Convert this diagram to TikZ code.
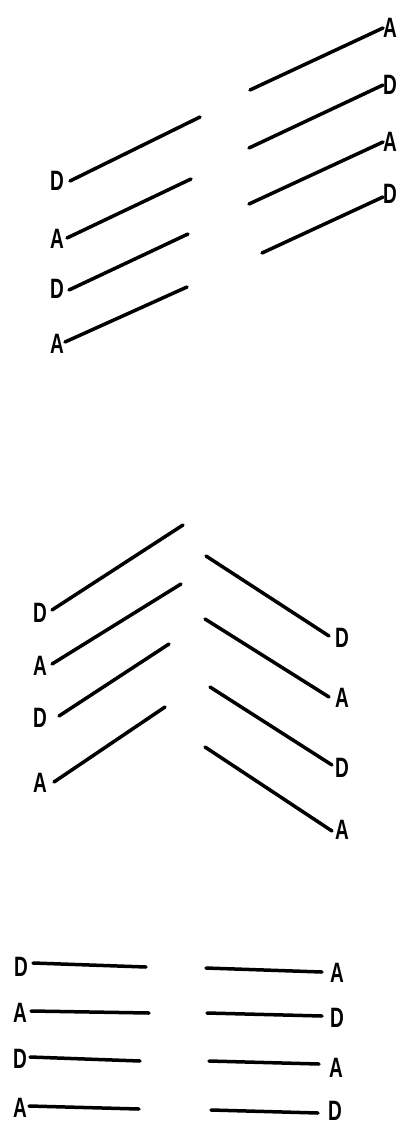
\documentclass[tikz,border=0pt]{standalone}
\usepackage{fontspec}
\newfontfamily\labfont{Liberation Sans}
\newcommand\lbl[1]{\scalebox{0.68}[1]{\bfseries #1}}
\tikzset{
  lab/.style={font=\labfont\fontsize{28}{28}\selectfont, inner sep=0pt,
    text height=20pt, text depth=0pt, text=black},
  pen/.style={line width=3.5pt, line cap=round, black}
}
\begin{document}
\begin{tikzpicture}[x=1pt,y=-1pt]
\useasboundingbox (0,0) rectangle (400,1124);
% ---------- section 1 ----------
\node[lab] (a1) at (57,180) {\lbl{D}};
\node[lab] (a2) at (57,238) {\lbl{A}};
\node[lab] (a3) at (57,288) {\lbl{D}};
\node[lab] (a4) at (57,343) {\lbl{A}};
\coordinate (a1s) at (70,181); \coordinate (a1e) at (200,117);
\coordinate (a2s) at (67,238); \coordinate (a2e) at (191,179);
\coordinate (a3s) at (69,290); \coordinate (a3e) at (188,234);
\coordinate (a4s) at (65,342); \coordinate (a4e) at (187,287);
\draw[pen] (a1s) -- (a1e);
\draw[pen] (a2s) -- (a2e);
\draw[pen] (a3s) -- (a3e);
\draw[pen] (a4s) -- (a4e);
\node[lab] (b1) at (390,28) {\lbl{A}};
\node[lab] (b2) at (390,85) {\lbl{D}};
\node[lab] (b3) at (390,141) {\lbl{A}};
\node[lab] (b4) at (390,193) {\lbl{D}};
\coordinate (b1s) at (250,90); \coordinate (b1e) at (383,28);
\coordinate (b2s) at (249,148); \coordinate (b2e) at (383,85);
\coordinate (b3s) at (249,204); \coordinate (b3e) at (383,142);
\coordinate (b4s) at (262,253); \coordinate (b4e) at (383,197);
\draw[pen] (b1s) -- (b1e);
\draw[pen] (b2s) -- (b2e);
\draw[pen] (b3s) -- (b3e);
\draw[pen] (b4s) -- (b4e);
% ---------- section 2 ----------
\node[lab] (c1) at (40,612) {\lbl{D}};
\node[lab] (c2) at (40,665) {\lbl{A}};
\node[lab] (c3) at (40,717) {\lbl{D}};
\node[lab] (c4) at (40,782) {\lbl{A}};
\coordinate (c1s) at (52,610); \coordinate (c1e) at (183,525);
\coordinate (c2s) at (52,664); \coordinate (c2e) at (181,584);
\coordinate (c3s) at (59,716); \coordinate (c3e) at (169,644);
\coordinate (c4s) at (54,782); \coordinate (c4e) at (165,707);
\draw[pen] (c1s) -- (c1e);
\draw[pen] (c2s) -- (c2e);
\draw[pen] (c3s) -- (c3e);
\draw[pen] (c4s) -- (c4e);
\node[lab] (d1) at (342,637) {\lbl{D}};
\node[lab] (d2) at (342,697) {\lbl{A}};
\node[lab] (d3) at (342,767) {\lbl{D}};
\node[lab] (d4) at (342,829) {\lbl{A}};
\coordinate (d1s) at (206,556); \coordinate (d1e) at (329,636);
\coordinate (d2s) at (205,619); \coordinate (d2e) at (329,697);
\coordinate (d3s) at (210,687); \coordinate (d3e) at (332,765);
\coordinate (d4s) at (205,747); \coordinate (d4e) at (332,831);
\draw[pen] (d1s) -- (d1e);
\draw[pen] (d2s) -- (d2e);
\draw[pen] (d3s) -- (d3e);
\draw[pen] (d4s) -- (d4e);
% ---------- section 3 ----------
\node[lab] (e1) at (21,966) {\lbl{D}};
\node[lab] (e2) at (20,1012) {\lbl{A}};
\node[lab] (e3) at (20,1058) {\lbl{D}};
\node[lab] (e4) at (20,1107) {\lbl{A}};
\coordinate (e1s) at (33,963); \coordinate (e1e) at (146,967);
\coordinate (e2s) at (31,1011); \coordinate (e2e) at (149,1013);
\coordinate (e3s) at (30,1057); \coordinate (e3e) at (140,1061);
\coordinate (e4s) at (29,1106); \coordinate (e4e) at (139,1109);
\draw[pen] (e1s) -- (e1e);
\draw[pen] (e2s) -- (e2e);
\draw[pen] (e3s) -- (e3e);
\draw[pen] (e4s) -- (e4e);
\node[lab] (f1) at (337,972) {\lbl{A}};
\node[lab] (f2) at (337,1017) {\lbl{D}};
\node[lab] (f3) at (336,1067) {\lbl{A}};
\node[lab] (f4) at (335,1110) {\lbl{D}};
\coordinate (f1s) at (206,968); \coordinate (f1e) at (322,972);
\coordinate (f2s) at (207,1013); \coordinate (f2e) at (322,1016);
\coordinate (f3s) at (209,1061); \coordinate (f3e) at (319,1064);
\coordinate (f4s) at (211,1110); \coordinate (f4e) at (318,1113);
\draw[pen] (f1s) -- (f1e);
\draw[pen] (f2s) -- (f2e);
\draw[pen] (f3s) -- (f3e);
\draw[pen] (f4s) -- (f4e);
\end{tikzpicture}
\end{document}
